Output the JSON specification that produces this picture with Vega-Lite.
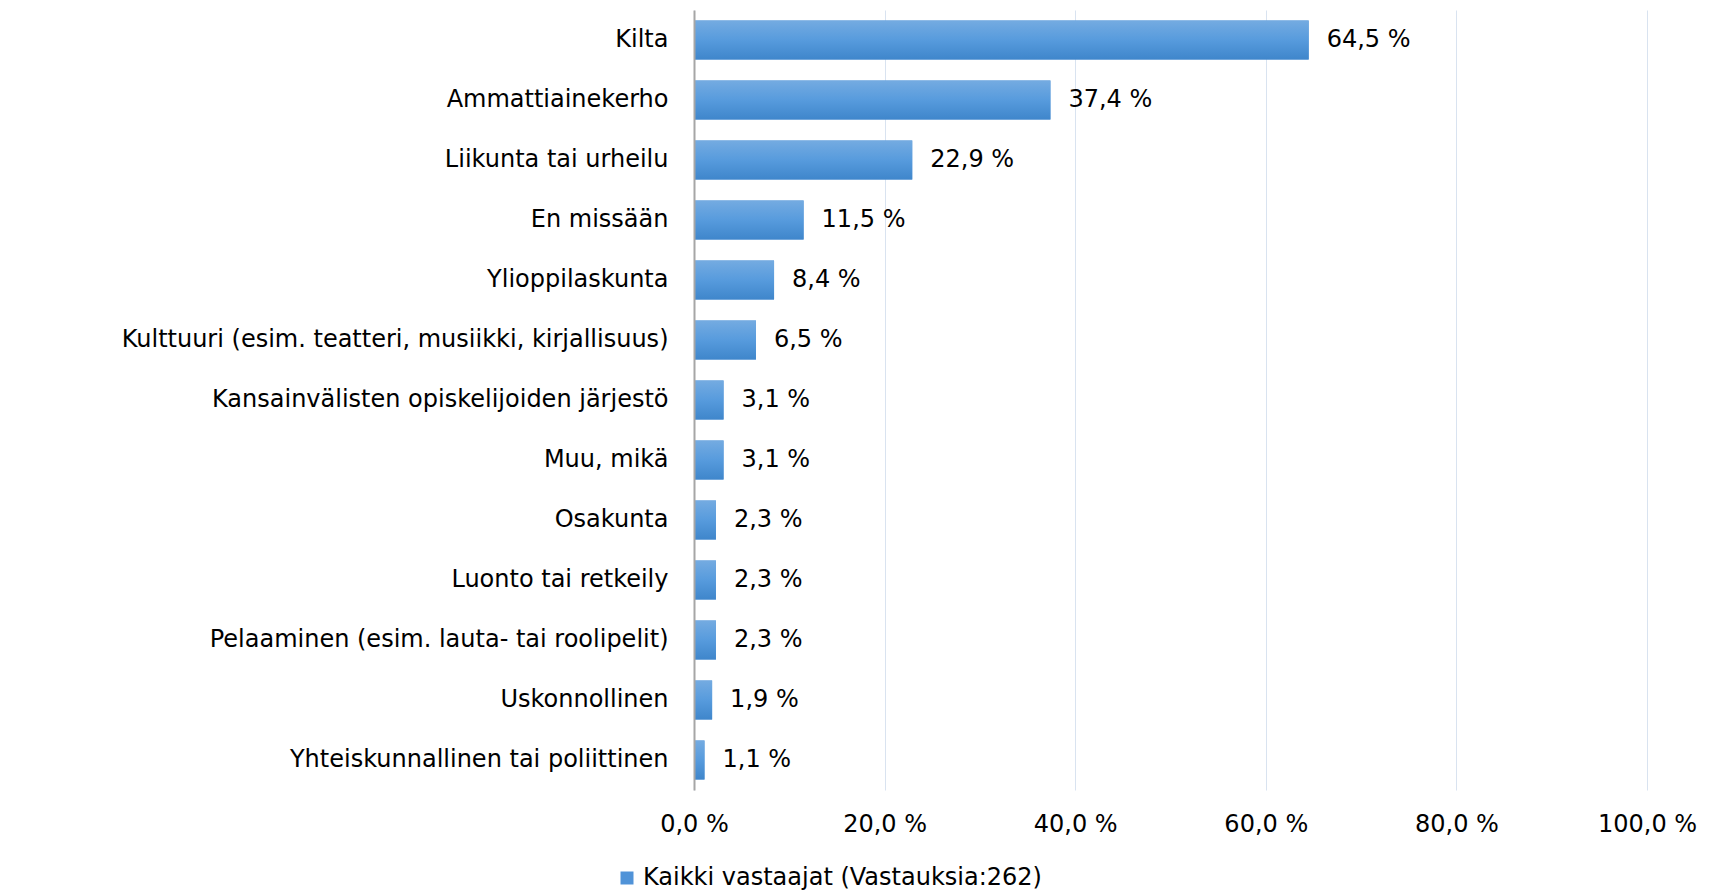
{
  "$schema": "https://vega.github.io/schema/vega-lite/v6.json",
  "autosize": "none",
  "width": 953,
  "height": 780,
  "padding": {"left": 694, "top": 10, "right": 64, "bottom": 102},
  "background": "white",
  "config": {
    "locale": {"number": {"decimal": ",", "thousands": " ", "grouping": [3], "currency": ["", " €"], "percent": " %"}},
    "font": "DejaVu Sans",
    "view": {"stroke": null}
  },
  "data": {"values": [
    {"jarjesto": "Kilta", "osuus": 0.645, "sarja": "Kaikki vastaajat (Vastauksia:262)"},
    {"jarjesto": "Ammattiainekerho", "osuus": 0.374, "sarja": "Kaikki vastaajat (Vastauksia:262)"},
    {"jarjesto": "Liikunta tai urheilu", "osuus": 0.229, "sarja": "Kaikki vastaajat (Vastauksia:262)"},
    {"jarjesto": "En missään", "osuus": 0.115, "sarja": "Kaikki vastaajat (Vastauksia:262)"},
    {"jarjesto": "Ylioppilaskunta", "osuus": 0.084, "sarja": "Kaikki vastaajat (Vastauksia:262)"},
    {"jarjesto": "Kulttuuri (esim. teatteri, musiikki, kirjallisuus)", "osuus": 0.065, "sarja": "Kaikki vastaajat (Vastauksia:262)"},
    {"jarjesto": "Kansainvälisten opiskelijoiden järjestö", "osuus": 0.031, "sarja": "Kaikki vastaajat (Vastauksia:262)"},
    {"jarjesto": "Muu, mikä", "osuus": 0.031, "sarja": "Kaikki vastaajat (Vastauksia:262)"},
    {"jarjesto": "Osakunta", "osuus": 0.023, "sarja": "Kaikki vastaajat (Vastauksia:262)"},
    {"jarjesto": "Luonto tai retkeily", "osuus": 0.023, "sarja": "Kaikki vastaajat (Vastauksia:262)"},
    {"jarjesto": "Pelaaminen (esim. lauta- tai roolipelit)", "osuus": 0.023, "sarja": "Kaikki vastaajat (Vastauksia:262)"},
    {"jarjesto": "Uskonnollinen", "osuus": 0.019, "sarja": "Kaikki vastaajat (Vastauksia:262)"},
    {"jarjesto": "Yhteiskunnallinen tai poliittinen", "osuus": 0.011, "sarja": "Kaikki vastaajat (Vastauksia:262)"}
  ]},
  "encoding": {
    "y": {"field": "jarjesto", "type": "nominal", "sort": null,
      "scale": {"paddingInner": 0.35, "paddingOuter": 0.175},
      "axis": {"title": null, "ticks": false, "labelPadding": 26, "labelFontSize": 24, "labelColor": "#000000",
        "labelLimit": 700, "domainColor": "#a6a6a6", "domainWidth": 2, "zindex": 1, "grid": false}},
    "x": {"field": "osuus", "type": "quantitative",
      "scale": {"domain": [0, 1], "nice": false},
      "axis": {"title": null, "format": ".1%", "values": [0, 0.2, 0.4, 0.6, 0.8, 1.0], "domain": false, "ticks": false,
        "labelFontSize": 24, "labelColor": "#000000", "labelPadding": 22, "labelFlush": false,
        "grid": true, "gridColor": "#d9e3f0", "gridWidth": 1}}
  },
  "layer": [
    {"mark": {"type": "bar"},
     "encoding": {"color": {"field": "sarja", "type": "nominal",
        "scale": {"range": ["#5093d8"]},
        "legend": {"title": null, "orient": "none", "legendX": -79, "legendY": 856, "symbolType": "square",
          "symbolSize": 169, "symbolStrokeWidth": 0, "labelFontSize": 24, "labelColor": "#000000", "labelLimit": 600, "labelOffset": 4}}}},
    {"mark": {"type": "bar", "color": {"gradient": "linear", "x1": 0, "y1": 0, "x2": 0, "y2": 1,
        "stops": [{"offset": 0, "color": "#74abe1"}, {"offset": 0.5, "color": "#579bdd"}, {"offset": 1, "color": "#3f86cb"}]}}},
    {"mark": {"type": "text", "align": "left", "baseline": "middle", "dx": 18, "fontSize": 24, "color": "#000000"},
     "encoding": {"text": {"field": "osuus", "type": "quantitative", "format": ".1%"}}}
  ]
}
